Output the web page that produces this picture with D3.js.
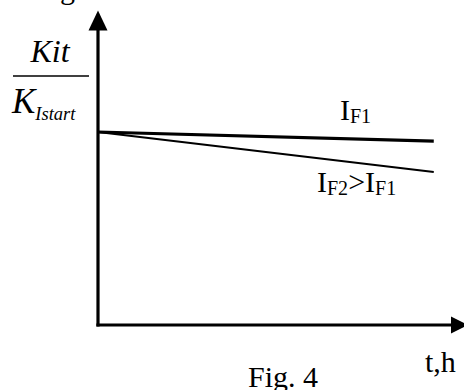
<!DOCTYPE html>
<html>
<head>
<meta charset="utf-8">
<script src="https://cdn.jsdelivr.net/npm/d3@7"></script>
<style>
  html, body { margin: 0; padding: 0; background: #fff; }
  svg { display: block; }
  text { font-family: "Liberation Serif", "Times New Roman", serif; fill: #000; }
</style>
</head>
<body>
<svg id="chart" width="464" height="390"></svg>
<script>
// Relative coefficient Kit/K_Istart over time for two forward currents
const hours = [0, 100];
const seriesIF1 = [1.0, 0.953];   // I_F1
const seriesIF2 = [1.0, 0.793];   // I_F2 > I_F1

const svg = d3.select("#chart");

const x = d3.scaleLinear().domain([0, 109]).range([98, 464]);
const y = d3.scaleLinear().domain([0, 1]).range([325, 132]);
const yTop = 1.63;

// Axes with arrowheads
const axisColor = "#000";
svg.append("line")
  .attr("x1", x(0)).attr("y1", y(0) + 1.5)
  .attr("x2", x(0)).attr("y2", y(yTop) + 14)
  .attr("stroke", axisColor).attr("stroke-width", 3.2);
svg.append("line")
  .attr("x1", x(0) - 1.6).attr("y1", y(0))
  .attr("x2", x(109) - 10).attr("y2", y(0))
  .attr("stroke", axisColor).attr("stroke-width", 3.2);

// vertical arrowhead
svg.append("path")
  .attr("d", `M${x(0)},${y(yTop)} L${x(0) + 9.5},${y(yTop) + 20} L${x(0) - 9.5},${y(yTop) + 20} Z`)
  .attr("fill", axisColor);
// horizontal arrowhead
svg.append("path")
  .attr("d", `M${x(109) + 4},${y(0)} L${x(109) - 13},${y(0) - 8.5} L${x(109) - 13},${y(0) + 8.5} Z`)
  .attr("fill", axisColor);

// Curves
const line = d3.line().x((d, i) => x(hours[i])).y(d => y(d));
svg.append("path").datum(seriesIF1)
  .attr("d", line).attr("fill", "none")
  .attr("stroke", "#000").attr("stroke-width", 3.2);
svg.append("path").datum(seriesIF2)
  .attr("d", line).attr("fill", "none")
  .attr("stroke", "#000").attr("stroke-width", 2);

// Curve labels
const lab1 = svg.append("text").attr("x", 340).attr("y", 120).attr("font-size", 30);
lab1.append("tspan").text("I");
lab1.append("tspan").attr("font-size", 20).attr("dy", 3).text("F1");

const lab2 = svg.append("text").attr("x", 317).attr("y", 192).attr("font-size", 30);
lab2.append("tspan").text("I");
lab2.append("tspan").attr("font-size", 20).attr("dy", 3).text("F2");
lab2.append("tspan").attr("dy", -3).text(">I");
lab2.append("tspan").attr("font-size", 20).attr("dy", 3).text("F1");

// Y axis title as a fraction
svg.append("text").attr("x", 50).attr("y", 62).attr("text-anchor", "middle")
  .attr("font-size", 32).attr("font-style", "italic").text("Kit");
svg.append("line").attr("x1", 13).attr("x2", 89).attr("y1", 76).attr("y2", 76)
  .attr("stroke", "#000").attr("stroke-width", 1.5);
const den = svg.append("text").attr("x", 12).attr("y", 113)
  .attr("font-size", 35).attr("font-style", "italic");
den.append("tspan").text("K");
den.append("tspan").attr("font-size", 18.5).attr("dy", 7).text("Istart");

// X axis title
svg.append("text").attr("x", 425).attr("y", 372).attr("font-size", 30).text("t,h");

// Caption of this figure and tail of the one above
svg.append("text").attr("x", 248).attr("y", 387).attr("font-size", 30).text("Fig. 4");
svg.append("text").attr("x", 60).attr("y", -1).attr("font-size", 30).text("g");
</script>
</body>
</html>
